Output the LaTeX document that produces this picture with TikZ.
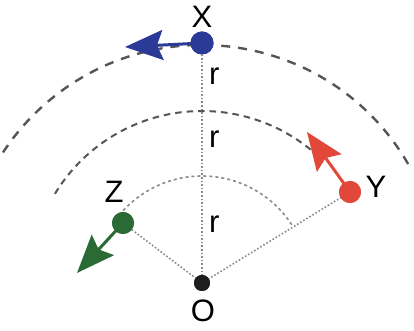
\documentclass[tikz,border=0pt]{standalone}
\usepackage{fontspec}
\setmainfont{Liberation Sans}
\usetikzlibrary{arrows.meta}
\definecolor{cblue}{HTML}{2B3A97}
\definecolor{cred}{HTML}{E2483A}
\definecolor{cgreen}{HTML}{2A6A34}
\definecolor{cdot}{HTML}{1E1E1E}
\definecolor{garc}{HTML}{555555}
\definecolor{garc2}{HTML}{8A8A8A}
\tikzset{
  lbl/.style={font=\fontsize{31}{34}\selectfont, anchor=base, inner sep=0pt},
  rlbl/.style={font=\fontsize{31}{34}\selectfont, anchor=base west, inner sep=0pt},
  ptdot/.style={circle, inner sep=0pt, minimum size=23pt},
  outerarc/.style={garc, line width=2.4pt, dash pattern=on 9pt off 8pt},
  midarc/.style={garc, line width=2pt, dash pattern=on 6.5pt off 5pt},
  innerarc/.style={garc2, line width=1.6pt, dash pattern=on 3pt off 3pt},
  radial/.style={garc2, line width=1.6pt, dash pattern=on 1.6pt off 2pt},
  vec/.style={line width=3pt, arrows={-Stealth[length=38pt,width=30pt,inset=6pt]}},
}
\begin{document}
\begin{tikzpicture}[x=1pt,y=1pt]
\useasboundingbox (0,0) rectangle (414,331);
% centre
\coordinate (Oc) at (202,48);
% arcs
\draw[outerarc] (Oc) ++(30:238) arc[start angle=30, end angle=148, radius=238];
\draw[midarc] (Oc) ++(47:172) arc[start angle=47, end angle=149, radius=172];
\draw[innerarc] (Oc) ++(33:107) arc[start angle=33, end angle=140, radius=107];
% points
\node[ptdot, fill=cdot, minimum size=16pt] (O) at (Oc) {};
\node[ptdot, fill=cblue] (X) at (202,288) {};
\node[ptdot, fill=cred, minimum size=22pt] (Y) at (350,139) {};
\node[ptdot, fill=cgreen, minimum size=22pt] (Z) at (123,108) {};
% radial lines
\draw[radial] (O.center) -- (X.center);
\draw[radial] (O.center) -- (Y.center);
\draw[radial] (O.center) -- (Z.center);
% end points of vectors
\coordinate (Xt) at (125,284);
\coordinate (Yt) at (307,199);
\coordinate (Zt) at (77,58);
\draw[vec, cblue] (X.center) -- (Xt);
\draw[vec, cred] (Y.center) -- (Yt);
\draw[vec, cgreen] (Z.center) -- (Zt);
% redraw dots on top
\node[ptdot, fill=cblue] at (X) {};
\node[ptdot, fill=cred, minimum size=22pt] at (Y) {};
\node[ptdot, fill=cgreen, minimum size=22pt] at (Z) {};
\node[ptdot, fill=cdot, minimum size=16pt] at (O) {};
% labels
\node[lbl] (lX) at (202,303) {X};
\node[lbl] (lY) at (376,133) {Y};
\node[lbl] (lZ) at (114,128) {Z};
\node[lbl] (lO) at (203,9) {O};
\node[rlbl] (r1) at (209,246) {r};
\node[rlbl] (r2) at (209,183) {r};
\node[rlbl] (r3) at (209,98) {r};
\end{tikzpicture}
\end{document}
